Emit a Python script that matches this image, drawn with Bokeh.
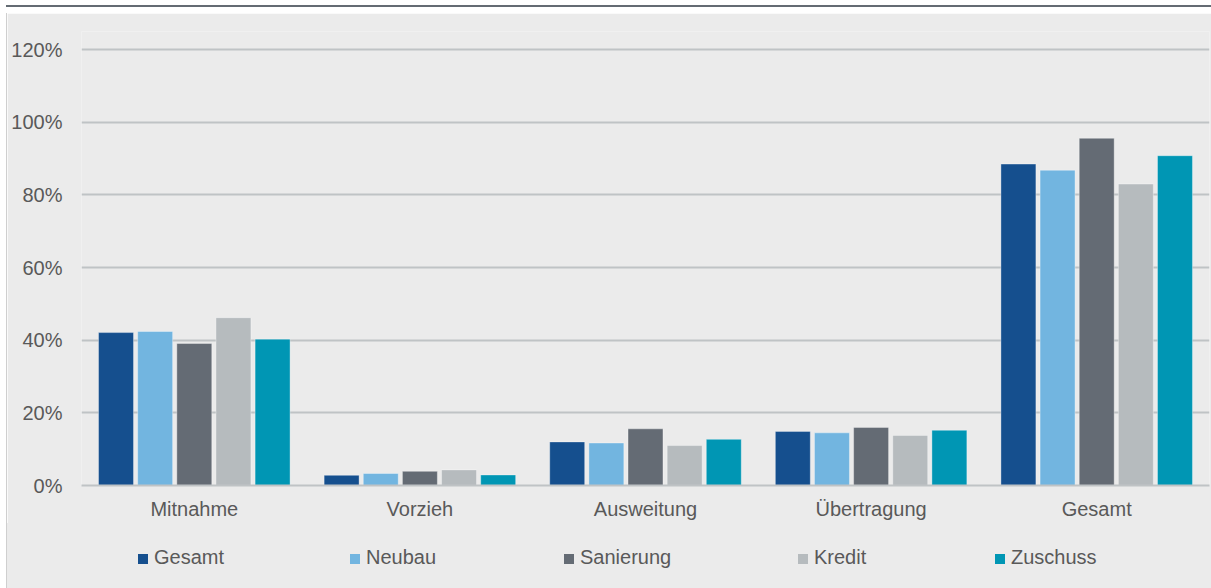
from bokeh.plotting import figure
from bokeh.models import (ColumnDataSource, FactorRange, Range1d, FixedTicker,
                          PrintfTickFormatter, Div)
from bokeh.transform import dodge
from bokeh.layouts import column
from bokeh.embed import file_html
from bokeh.resources import INLINE

categories = ["Mitnahme", "Vorzieh", "Ausweitung", "Übertragung", "Gesamt"]
series = ["Gesamt", "Neubau", "Sanierung", "Kredit", "Zuschuss"]
gesamt = [42.1, 2.8, 12.0, 14.9, 88.5]
neubau = [42.4, 3.3, 11.7, 14.5, 86.8]
sanierung = [39.1, 3.9, 15.6, 16.0, 95.6]
kredit = [46.2, 4.3, 11.0, 13.8, 83.0]
zuschuss = [40.3, 2.9, 12.7, 15.2, 90.8]
y_ticks = [0, 20, 40, 60, 80, 100, 120]

colors = ["#154f8e", "#72b5e0", "#646b74", "#b6bbbe", "#0096b4"]
FONT = "'Liberation Sans', Arial, sans-serif"
TXT = "#595959"
BG = "#ebebeb"
GRID = "#bfc3c5"
EDGE = "1px solid #cfcfcf"

source = ColumnDataSource(dict(cat=categories, Gesamt=gesamt, Neubau=neubau,
                               Sanierung=sanierung, Kredit=kredit, Zuschuss=zuschuss))

p = figure(width=1205, height=510, x_range=FactorRange(*categories, range_padding=0),
           y_range=Range1d(0, 125), output_backend="svg", toolbar_location=None,
           min_border_left=74, min_border_right=3, min_border_top=18, min_border_bottom=38,
           background_fill_color=BG, border_fill_color=BG, outline_line_color=None,
           margin=(0, 0, 0, 6), styles={"border-left": EDGE})

offsets = [-0.347, -0.1735, 0.0, 0.1735, 0.347]
for s, c, off in zip(series, colors, offsets):
    p.vbar(x=dodge("cat", off, range=p.x_range), top=s, width=0.155, source=source,
           fill_color=c, line_color="white", line_alpha=0.35, line_width=1)

p.xgrid.grid_line_color = None
p.ygrid.grid_line_color = GRID
p.ygrid.grid_line_width = 2
p.yaxis.ticker = FixedTicker(ticks=y_ticks)
p.yaxis.formatter = PrintfTickFormatter(format="%d%%")
p.yaxis.axis_line_color = None
p.yaxis.major_label_standoff = 19
p.xaxis.axis_line_color = GRID
p.xaxis.axis_line_width = 2
p.xaxis.major_label_standoff = 12
for ax in (p.xaxis, p.yaxis):
    ax.major_tick_line_color = None
    ax.minor_tick_line_color = None
    ax.major_tick_out = 0
    ax.major_tick_in = 0
    ax.minor_tick_out = 0
    ax.minor_tick_in = 0
    ax.major_label_text_font = FONT
    ax.major_label_text_font_size = "20px"
    ax.major_label_text_color = TXT

# legend strip (HTML) below the chart
legend_left = [131, 343, 557, 791, 988]
parts = []
for s, c, x in zip(series, colors, legend_left):
    parts.append(
        f'<span style="position:absolute;left:{x}px;top:22px;line-height:24px;white-space:nowrap">'
        f'<span style="display:inline-block;width:10px;height:10px;background:{c};'
        f'margin-right:6px;vertical-align:baseline"></span>{s}</span>')
legend_html = (f'<div style="position:relative;width:1205px;height:65px;font-family:{FONT};'
               f'font-size:20px;color:{TXT}">' + "".join(parts) + '</div>')
legend = Div(text=legend_html, width=1205, height=65, margin=(0, 0, 0, 6),
             styles={"background-color": BG, "border-left": EDGE})

top = Div(width=1205, height=2, margin=(5, 0, 6, 6), styles={"background-color": "#646b73"})

layout = column(top, p, legend)
open("out.html", "w").write(file_html(layout, INLINE))
